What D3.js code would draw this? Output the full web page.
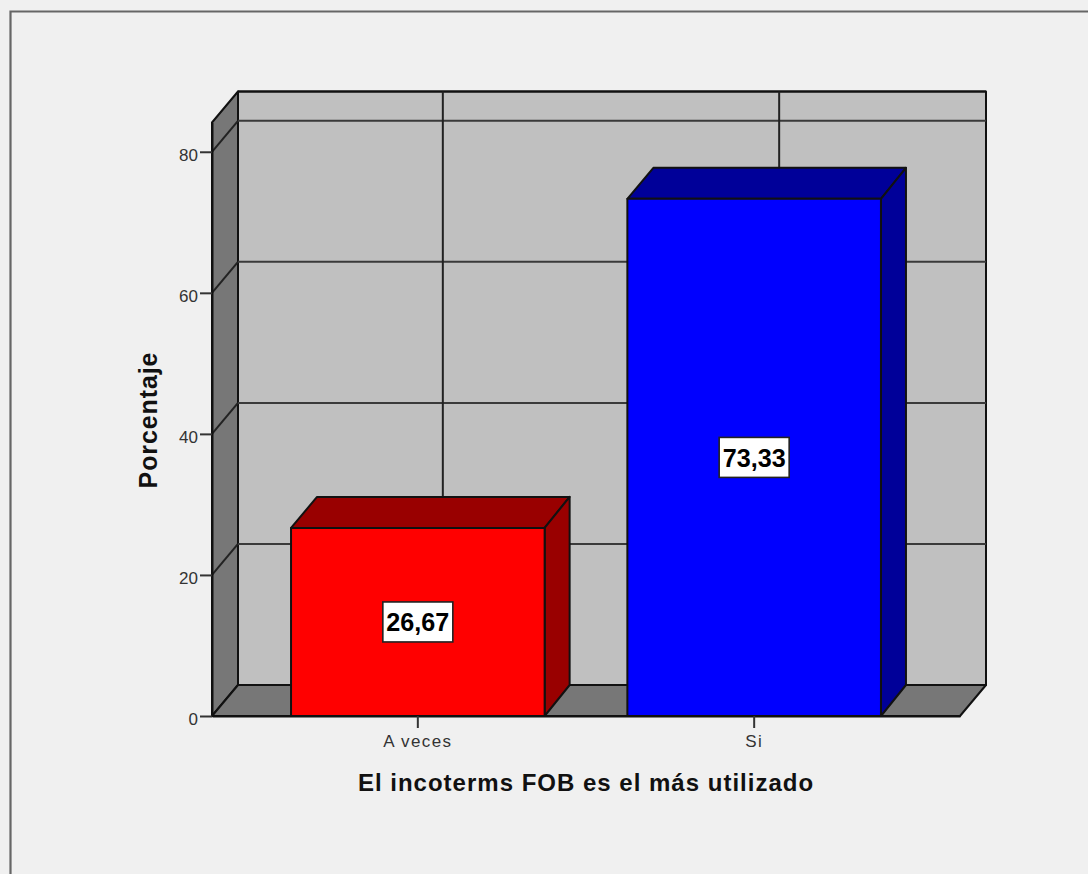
<!DOCTYPE html>
<html>
<head>
<meta charset="utf-8">
<script src="https://cdn.jsdelivr.net/npm/d3@7"></script>
<style>
html, body { margin: 0; padding: 0; background: #f0f0f0; }
svg { display: block; }
text { font-family: "Liberation Sans", Arial, sans-serif; }
</style>
</head>
<body>
<div id="chart-area"></div>
<script>
var categories = ["A veces", "Si"];
var values = [26.67, 73.33];
var valueLabels = ["26,67", "73,33"];
var yTicks = [0, 20, 40, 60, 80];
var frontColors = ["#ff0000", "#0000ff"];
var sideColors = ["#990000", "#000099"];

var svgWidth = 1088, svgHeight = 874;
var left = 212, right = 960, top_ = 122.5, bottom = 716;
var dx = 26, dy = -31; // depth of the fake 3d box

var svg = d3.select("#chart-area").append("svg")
    .attr("width", svgWidth)
    .attr("height", svgHeight);

// outer frame, only top and left show
svg.append("path")
    .attr("d", "M10.5," + svgHeight + "V11.5H" + svgWidth)
    .attr("fill", "none")
    .attr("stroke", "#666")
    .attr("stroke-width", 2.2);

var x = d3.scaleBand()
    .domain(categories)
    .range([left, right])
    .paddingInner(0.246)
    .paddingOuter(0.235);

var y = d3.scaleLinear()
    .domain([0, 84.15])
    .range([bottom, top_]);

var line = d3.line();
function poly(pts, fill) {
    return svg.append("path")
        .attr("d", line(pts) + "Z")
        .attr("fill", fill)
        .attr("stroke", "#111")
        .attr("stroke-width", 2)
        .attr("stroke-linejoin", "round");
}
function seg(a, b, color, w) {
    return svg.append("path")
        .attr("d", line([a, b]))
        .attr("stroke", color || "#222")
        .attr("stroke-width", w || 2)
        .attr("fill", "none");
}

var yTop = y.range()[1];

// back wall, left wall, floor
poly([[left + dx, yTop + dy], [right + dx, yTop + dy], [right + dx, bottom + dy], [left + dx, bottom + dy]], "#c0c0c0");
poly([[left, yTop], [left + dx, yTop + dy], [left + dx, bottom + dy], [left, bottom]], "#777777");
poly([[left, bottom], [left + dx, bottom + dy], [right + dx, bottom + dy], [right, bottom]], "#777777");

// gridlines on the walls
yTicks.slice(1).forEach(function(t) {
    seg([left, y(t)], [left + dx, y(t) + dy]);
    seg([left + dx, y(t) + dy], [right + dx, y(t) + dy], "#3a3a3a");
});
seg([left + dx, yTop + dy], [right + dx, yTop + dy], "#111");

// vertical gridlines on the back wall
categories.forEach(function(c) {
    var cx = x(c) + x.bandwidth() / 2 + dx - 1;
    seg([cx, yTop + dy], [cx, bottom + dy], "#222");
});

// bars
categories.forEach(function(c, i) {
    var x0 = x(c), x1 = x0 + x.bandwidth(), yv = y(values[i]);
    var bx = x1 + dx - 1;
    poly([[x0, yv], [x0 + dx, yv + dy], [bx, yv + dy], [x1, yv]], sideColors[i]);
    poly([[x1, yv], [bx, yv + dy], [bx, bottom + dy], [x1, bottom]], sideColors[i]);
    poly([[x0, yv], [x1, yv], [x1, bottom], [x0, bottom]], frontColors[i]);
});

// axes
var gy = svg.append("g")
    .attr("transform", "translate(" + left + ",0)")
    .call(d3.axisLeft(y).tickValues(yTicks).tickSize(12).tickSizeOuter(0).tickPadding(2).tickFormat(d3.format("d")));
gy.selectAll("text").attr("font-size", 17).attr("fill", "#333").attr("font-family", null).attr("dy", "0.5em");
gy.selectAll("line").attr("stroke", "#333").attr("stroke-width", 2);
gy.select(".domain").attr("stroke", "#111").attr("stroke-width", 2);

var gx = svg.append("g")
    .attr("transform", "translate(0," + bottom + ")")
    .call(d3.axisBottom(x).tickSize(12).tickSizeOuter(0).tickPadding(7));
gx.selectAll("text").attr("font-size", 17).attr("fill", "#333").attr("font-family", null)
    .style("letter-spacing", "1.4px");
gx.selectAll("line").attr("stroke", "#333").attr("stroke-width", 2);
gx.select(".domain").attr("stroke", "#111").attr("stroke-width", 2);

// value labels
categories.forEach(function(c, i) {
    var cx = x(c) + x.bandwidth() / 2, cy = y(values[i] / 2);
    svg.append("rect")
        .attr("x", cx - 35).attr("y", cy - 20)
        .attr("width", 70).attr("height", 40)
        .attr("fill", "#fff")
        .attr("stroke", "#222")
        .attr("stroke-width", 1.6);
    svg.append("text")
        .attr("x", cx).attr("y", cy)
        .attr("dy", "0.36em")
        .attr("text-anchor", "middle")
        .attr("font-size", 26)
        .attr("font-weight", "bold")
        .attr("fill", "#000")
        .attr("textLength", 63)
        .attr("lengthAdjust", "spacingAndGlyphs")
        .text(valueLabels[i]);
});

// axis titles
svg.append("text")
    .attr("x", 586).attr("y", 791)
    .attr("text-anchor", "middle")
    .attr("font-size", 24)
    .attr("font-weight", "bold")
    .attr("fill", "#111")
    .style("letter-spacing", "1px")
    .text("El incoterms FOB es el más utilizado");

svg.append("text")
    .attr("transform", "translate(157,420) rotate(-90)")
    .attr("text-anchor", "middle")
    .attr("font-size", 25)
    .attr("font-weight", "bold")
    .attr("fill", "#111")
    .style("letter-spacing", "0.9px")
    .text("Porcentaje");
</script>
</body>
</html>
